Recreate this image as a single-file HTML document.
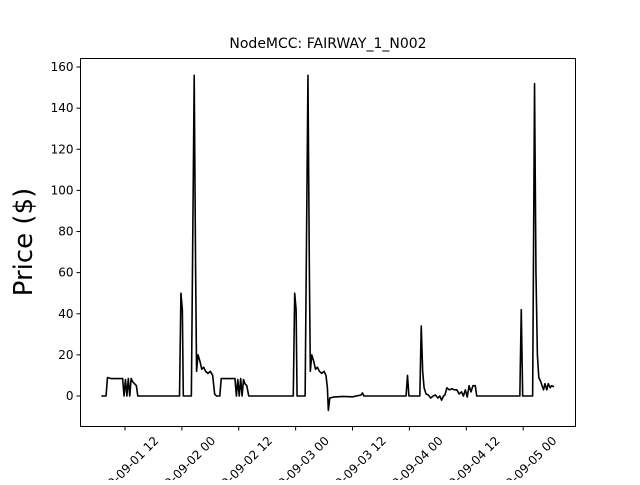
<!DOCTYPE html>
<html><head><meta charset="utf-8"><style>
body{margin:0;background:#fff}
svg{font-family:"DejaVu Sans","Liberation Sans",sans-serif}
</style></head><body>
<svg id="chart" width="640" height="480" viewBox="0 0 640 480">
<rect width="640" height="480" fill="#fff"/>
<text x="328" y="48" font-size="14" text-anchor="middle">NodeMCC: FAIRWAY_1_N002</text>
<text transform="translate(32,242) rotate(-90)" font-size="26" text-anchor="middle">Price ($)</text>
<g id="plot"></g>
</svg>
<script>
const hours=[7,8,8.3,9,11.5,11.8,12.1,12.4,12.7,13,13.3,13.6,14,14.4,14.7,
23.5,23.8,24.1,24.3,26.0,26.6,26.9,27.1,27.4,27.8,28.2,28.6,29,29.5,30,30.5,30.9,31.3,
32.0,32.3,35.2,35.5,35.8,36.1,36.4,36.7,37,37.3,37.7,38.1,38.6,
47.5,47.8,48.1,48.3,50.0,50.6,50.9,51.1,51.4,51.8,52.2,52.6,53,53.5,54,54.4,54.7,54.9,55.2,56,58,60,61.8,62.1,62.4,
71.3,71.6,71.9,72.1,74.2,74.5,74.8,75.1,75.5,76,76.5,77,77.5,78,78.4,78.8,79.2,79.5,79.9,80.4,81,81.5,82,82.5,83,83.4,83.8,84.2,84.6,85,85.4,85.9,86.2,86.4,
95.3,95.6,95.9,96.2,98.0,98.4,98.7,99.0,99.3,99.7,100,100.3,100.6,101,101.3,101.7,102,102.5];
const prices=[0,0,9,8.5,8.5,0,8,0,8.5,0,8.5,7,6,5,0,
0,50,42,0,0,156,60,12,20,17,13,14,12,11,12,10,1,0,
0,8.5,8.5,0,8,0,8.5,0,8,6,5,0,0,
0,50,42,0,0,156,60,12,20,17,13,14,12,11,12,10,4,-7,-1,-0.5,-0.2,-0.4,0.5,1.5,0,
0,10,0,0,0,34,12,4,1,0.5,-1,0,0.5,-1,0,-2,0,0.5,4,3,3.5,3,3,1,2,0,3,-0.5,5,2,5,5,0,0,
0,42,0,0,0,152,60,20,9,7,5,3,6,3,6,4,5,4.5];
const yTicks=[0,20,40,60,80,100,120,140,160];
const xTickHours=[12,24,36,48,60,72,84,96];
const xTickLabels=["2019-09-01 12","2019-09-02 00","2019-09-02 12","2019-09-03 00","2019-09-03 12","2019-09-04 00","2019-09-04 12","2019-09-05 00"];

const L=80.5,R=575.5,T=58.5,B=426.5;
const xs=h=>125+(h-12)*4.74;
const ys=v=>396-v*2.056;
const NS="http://www.w3.org/2000/svg";
const g=document.getElementById('plot');
function mk(tag,attrs,parent){const e=document.createElementNS(NS,tag);for(const k in attrs)e.setAttribute(k,attrs[k]);(parent||g).appendChild(e);return e;}

let d='';
hours.forEach((h,i)=>{d+=(i?'L':'M')+xs(h).toFixed(2)+','+ys(prices[i]).toFixed(2);});
const line=mk('path',{d:d,fill:'none',stroke:'#000','stroke-width':1.6,'stroke-linejoin':'round'});



const frame=mk('rect',{x:L,y:T,width:R-L,height:B-T,fill:'none',stroke:'#000','stroke-width':1});



yTicks.forEach(v=>{
  const y=ys(v);
  const t=mk('line',{x1:L-4,x2:L,y1:y,y2:y,stroke:'#000'});
  
  
  const tx=mk('text',{x:L-7,y:y+4,'font-size':12,'text-anchor':'end'});
  tx.textContent=v;
  
  
});
xTickHours.forEach((h,i)=>{
  const x=xs(h);
  const t=mk('line',{x1:x,x2:x,y1:B,y2:B+4,stroke:'#000'});
  
  
  const tx=mk('text',{x:x,y:474,'font-size':12,'text-anchor':'middle',transform:`rotate(-45 ${x} 470)`});
  tx.textContent=xTickLabels[i];
  
  
});
</script>
</body></html>
